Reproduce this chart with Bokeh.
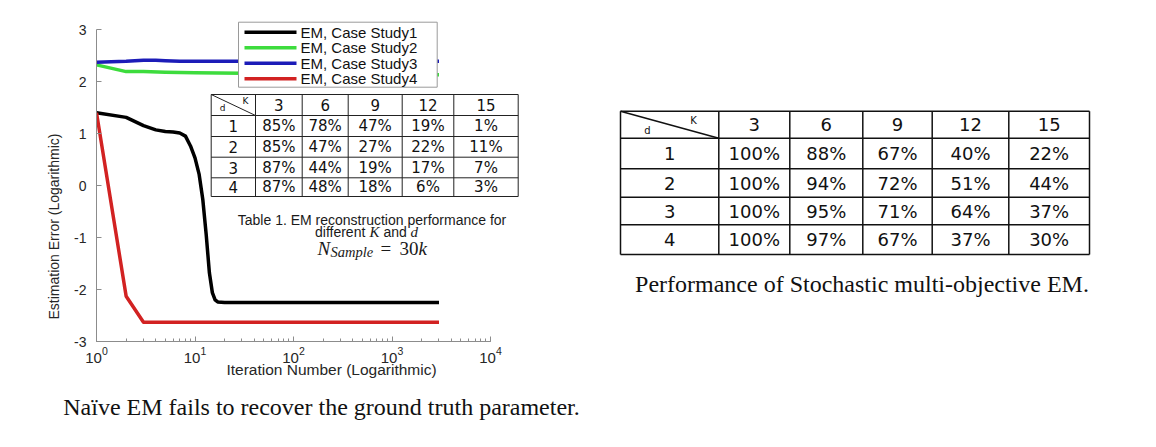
import math
from bokeh.plotting import figure
from bokeh.models import Range1d, FixedTicker, LinearScale, PrintfTickFormatter
from bokeh.layouts import row
from bokeh.embed import file_html
from bokeh.resources import INLINE
from bokeh.core.properties import value

# ---------------- data ----------------
iter_cs1 = [1, 2, 3, 4, 5, 6, 7, 8, 9, 10, 11, 12, 13, 14, 15, 16, 17, 20, 30, 3000]
err_cs1 = [1.40, 1.31, 1.15, 1.07, 1.04, 1.03, 1.01, 0.95, 0.76, 0.53, 0.22, -0.27,
           -0.95, -1.68, -2.06, -2.20, -2.24, -2.25, -2.25, -2.25]
iter_cs2 = [1, 2, 3, 5, 10, 30, 100, 3000]
err_cs2 = [2.32, 2.19, 2.19, 2.18, 2.17, 2.16, 2.15, 2.13]
iter_cs3 = [1, 2, 3, 4, 5, 7, 10, 3000]
err_cs3 = [2.37, 2.39, 2.41, 2.41, 2.40, 2.39, 2.39, 2.39]
iter_cs4 = [1, 2, 3, 3000]
err_cs4 = [1.40, -2.13, -2.63, -2.63]

series_labels = ["EM, Case Study1", "EM, Case Study2", "EM, Case Study3", "EM, Case Study4"]
series_colors = ["#000000", "#3ddc3d", "#1c1cb8", "#d22222"]

y_ticks = [-3, -2, -1, 0, 1, 2, 3]

K_values = [3, 6, 9, 12, 15]
d_values = [1, 2, 3, 4]
naive_pct = [[85, 78, 47, 19, 1],
             [85, 47, 27, 22, 11],
             [87, 44, 19, 17, 7],
             [87, 48, 18, 6, 3]]
stoch_pct = [[100, 88, 67, 40, 22],
             [100, 94, 72, 51, 44],
             [100, 95, 71, 64, 37],
             [100, 97, 67, 37, 30]]

SANS = "Liberation Sans"
SERIF = "Liberation Serif"
TABF = "DejaVu Sans"

# ---------------- left figure (chart) ----------------
p = figure(width=600, height=447, x_axis_type="log", x_range=Range1d(1, 1e4),
           y_range=Range1d(-3, 3), output_backend="svg", toolbar_location=None,
           min_border_left=96, min_border_right=110, min_border_top=29, min_border_bottom=106)
# pixel-like helper ranges for page annotations (canvas x, canvas y from top)
p.extra_x_ranges = {"px": Range1d(96, 490)}
p.extra_x_scales = {"px": LinearScale()}
p.extra_y_ranges = {"py": Range1d(341, 29)}
p.extra_y_scales = {"py": LinearScale()}
p.grid.visible = False
p.outline_line_color = None
p.background_fill_color = "white"
p.border_fill_color = "white"

axc = "#8c8c8c"
for ax in (p.xaxis, p.yaxis):
    ax.axis_line_color = axc
    ax.major_tick_line_color = axc
    ax.minor_tick_line_color = axc
    ax.major_tick_in = 5
    ax.major_tick_out = 0
    ax.minor_tick_in = 3
    ax.minor_tick_out = 0
    ax.major_label_text_font = SANS
    ax.major_label_text_color = "#262626"
p.yaxis.ticker = FixedTicker(ticks=y_ticks)
p.yaxis.formatter = PrintfTickFormatter(format="%d")
p.yaxis.major_label_text_font_size = "14px"
p.yaxis.major_label_standoff = 10
p.xaxis.ticker.num_minor_ticks = 10
p.xaxis.major_label_text_font_size = "15px"
p.xaxis.major_label_standoff = 5

for xs, ys, col in [(iter_cs1, err_cs1, series_colors[0]), (iter_cs2, err_cs2, series_colors[1]),
                    (iter_cs3, err_cs3, series_colors[2]), (iter_cs4, err_cs4, series_colors[3])]:
    p.line(xs, ys, line_color=col, line_width=3.5, line_join="round")

OV = dict(x_range_name="px", y_range_name="py", level="overlay")


def txt(fig, x, y, text, font, size, style="normal", align="left", baseline="alphabetic",
        angle=0.0, color="#1a1a1a", **kw):
    fig.text(x=[x], y=[y], text=[text], text_font=value(font), text_font_size=value(size),
             text_font_style=style, text_align=align, text_baseline=baseline, angle=angle,
             text_color=color, **kw)


# legend box (drawn above the plot frame edge, like the original)
LEG_L, LEG_R, LEG_T, LEG_B = 238, 436.7, 21.7, 86.7
leg_rows = [31.7, 47.2, 62.7, 78.2]
p.quad(left=[LEG_L], right=[LEG_R], top=[LEG_T], bottom=[LEG_B], fill_color="white",
       line_color="#9a9a9a", line_width=1, **OV)
p.segment(x0=[244] * 4, x1=[296] * 4, y0=leg_rows, y1=leg_rows, line_color=series_colors,
          line_width=3.5, **OV)
p.text(x=[300] * 4, y=leg_rows, text=series_labels, text_font=value(SANS),
       text_font_size=value("15px"), text_baseline="middle", text_align="left",
       text_color="#111111", **OV)

# axis labels
txt(p, 53, 226, "Estimation Error (Logarithmic)", SANS, "14px", align="center",
    baseline="middle", angle=math.pi / 2, color="#262626", **OV)
txt(p, 331, 369, "Iteration Number (Logarithmic)", SANS, "15.5px", align="center",
    baseline="middle", color="#262626", **OV)


def draw_table(fig, cols, rows, cells, font_size, hdr_size, d_pos, k_pos, lw, lc, **kw):
    fig.quad(left=cols[0], right=cols[-1], top=rows[0], bottom=rows[-1],
             fill_color="white", line_color=None, **kw)
    x0, y0, x1, y1 = [], [], [], []
    for c in cols:
        x0.append(c); y0.append(rows[0]); x1.append(c); y1.append(rows[-1])
    for r in rows:
        x0.append(cols[0]); y0.append(r); x1.append(cols[-1]); y1.append(r)
    x0.append(cols[0]); y0.append(rows[0]); x1.append(cols[1]); y1.append(rows[1])
    fig.segment(x0=x0, y0=y0, x1=x1, y1=y1, line_color=lc, line_width=lw, **kw)
    tx, ty, tt = [], [], []
    for j, k in enumerate(K_values):
        tx.append((cols[j + 1] + cols[j + 2]) / 2); ty.append((rows[0] + rows[1]) / 2); tt.append(str(k))
    for i, d in enumerate(d_values):
        tx.append((cols[0] + cols[1]) / 2); ty.append((rows[i + 1] + rows[i + 2]) / 2); tt.append(str(d))
        for j in range(len(K_values)):
            tx.append((cols[j + 1] + cols[j + 2]) / 2); ty.append((rows[i + 1] + rows[i + 2]) / 2)
            tt.append(f"{cells[i][j]}%")
    fig.text(x=tx, y=ty, text=tt, text_font=value(TABF), text_font_size=value(font_size),
             text_align="center", text_baseline="middle", text_color="#111111", **kw)
    fig.text(x=[d_pos[0], k_pos[0]], y=[d_pos[1], k_pos[1]], text=["d", "K"],
             text_font=value(TABF), text_font_size=value(hdr_size),
             text_align="center", text_baseline="middle", text_color="#111111", **kw)


draw_table(p, [210.7, 255, 301.7, 347.7, 401.7, 453.3, 517.7], [94, 115, 136, 156.7, 177.3, 196],
           naive_pct, "15px", "9px", (222, 107), (245, 100), 1, "#222222", **OV)

# table caption
txt(p, 371.5, 219, "Table 1. EM reconstruction performance for", SANS, "14px", align="center", **OV)
txt(p, 314.5, 231, "different", SANS, "14px", **OV)
txt(p, 369, 231, "K", SERIF, "15px", style="italic", **OV)
txt(p, 383, 231, "and", SANS, "14px", **OV)
txt(p, 410, 231, "d", SERIF, "15px", style="italic", **OV)
txt(p, 317, 248, "N", SERIF, "19px", style="italic", **OV)
txt(p, 330, 251, "Sample", SERIF, "14.5px", style="italic", **OV)
txt(p, 380, 248, "=", SERIF, "19px", **OV)
txt(p, 399, 248, "30", SERIF, "19px", **OV)
txt(p, 418, 248, "k", SERIF, "19px", style="italic", **OV)

# figure caption
txt(p, 321, 406, "Naïve EM fails to recover the ground truth parameter.", SERIF, "24px",
    align="center", color="#111111", **OV)

# ---------------- right figure (table) ----------------
q = figure(width=556, height=447, x_range=Range1d(600, 1156), y_range=Range1d(341, 29),
           output_backend="svg", toolbar_location=None, x_axis_location=None,
           y_axis_location=None, min_border_left=0, min_border_right=0,
           min_border_top=29, min_border_bottom=106)
q.grid.visible = False
q.outline_line_color = None
q.background_fill_color = "white"
q.border_fill_color = "white"

draw_table(q, [620, 718.3, 789.3, 862.3, 931.7, 1008.3, 1089], [110.7, 137.7, 168.3, 196.7, 224.3, 254],
           stoch_pct, "18px", "10px", (647, 130), (693, 120), 1.5, "#111111")
txt(q, 861.5, 283, "Performance of Stochastic multi-objective EM.", SERIF, "24px", align="center",
    color="#111111")

layout = row(p, q)
open("out.html", "w").write(file_html(layout, INLINE))
